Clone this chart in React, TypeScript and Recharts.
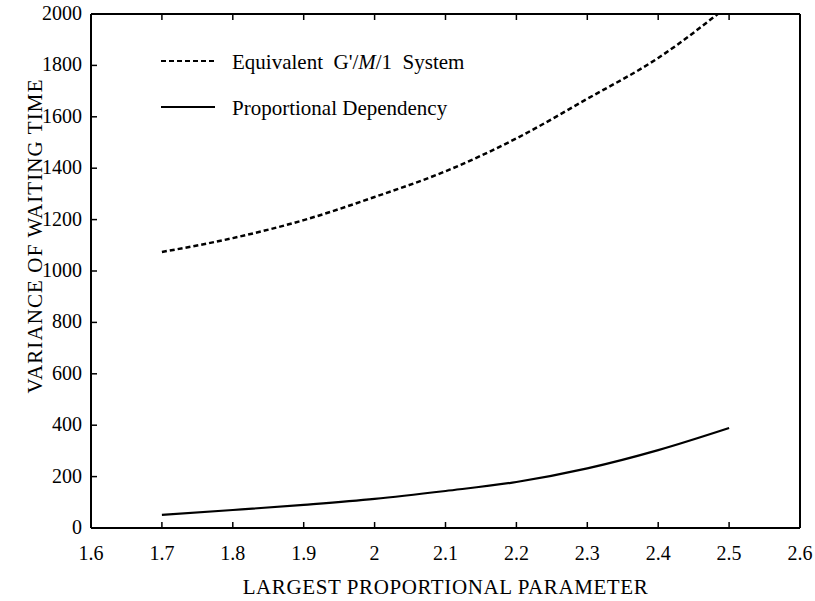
import React from "react"
import { LineChart, Line, XAxis, YAxis, Label, Customized } from "recharts"

const parameters = [1.7, 1.8, 1.9, 2.0, 2.1, 2.2, 2.3, 2.4, 2.5]
const equivalentSystem = [1074, 1128, 1198, 1288, 1388, 1516, 1670, 1829, 2035]
const proportionalDependency = [51, 70, 90, 113, 144, 179, 232, 303, 389]

const xTicks = [1.6, 1.7, 1.8, 1.9, 2.0, 2.1, 2.2, 2.3, 2.4, 2.5, 2.6]
const yTicks = [0, 200, 400, 600, 800, 1000, 1200, 1400, 1600, 1800, 2000]

const series = [
  { key: "equivalent", label: "Equivalent G'/M/1 System", dash: "5 3" },
  { key: "proportional", label: "Proportional Dependency", dash: undefined },
]

const data = parameters.map((p, i) => ({
  p,
  equivalent: equivalentSystem[i],
  proportional: proportionalDependency[i],
}))

const FONT = "'Liberation Serif', 'DejaVu Serif', serif"
const textStyle = { fontFamily: FONT, fill: "#000" }
const TICK_LEN = 6
// axis sizes: left axis 91 wide, top axis 14 high
const LEFT_W = 91
const TOP_H = 14

const fmtX = (v: number) => (Math.round(v * 10) / 10).toString()

function BottomTick({ x, y, payload }: any) {
  return (
    <g>
      <line x1={x} x2={x} y1={y} y2={y - TICK_LEN} stroke="#000" strokeWidth={1.5} />
      <text x={x} y={y + 32} textAnchor="middle" style={{ ...textStyle, fontSize: 20 }}>
        {fmtX(payload.value)}
      </text>
    </g>
  )
}

function TopTick({ x, y }: any) {
  return <line x1={x} x2={x} y1={y} y2={y + TICK_LEN} stroke="#000" strokeWidth={1.5} />
}

function LeftTick({ x, y, payload }: any) {
  return (
    <g>
      <line x1={x} x2={x + TICK_LEN} y1={y} y2={y} stroke="#000" strokeWidth={1.5} />
      <text x={x - 9} y={y + 6} textAnchor="end" style={{ ...textStyle, fontSize: 20 }}>
        {payload.value}
      </text>
    </g>
  )
}

function RightTick({ x, y }: any) {
  return <line x1={x} x2={x - TICK_LEN} y1={y} y2={y} stroke="#000" strokeWidth={1.5} />
}

function LegendBox() {
  const left = LEFT_W + 70
  const top = TOP_H + 47
  return (
    <g>
      {series.map((s, i) => {
        const y = top + i * 46
        return (
          <g key={s.key}>
            <line x1={left} x2={left + 54} y1={y} y2={y} stroke="#000" strokeWidth={2} strokeDasharray={s.dash} />
            <text x={left + 71} y={y + 8} style={{ ...textStyle, fontSize: 21 }}>
              {s.key === "equivalent" ? (
                <>
                  Equivalent&#160; G'/<tspan style={{ fontStyle: "italic" }}>M</tspan>/1&#160; System
                </>
              ) : (
                s.label
              )}
            </text>
          </g>
        )
      })}
    </g>
  )
}

export default function App() {
  return (
    <div style={{ position: "absolute", left: 0, top: 0, background: "#fff" }}>
      <LineChart width={815} height={601} data={data} margin={{ top: 0, right: 0, bottom: 0, left: 0 }}>
        <XAxis
          xAxisId="bottom"
          dataKey="p"
          type="number"
          domain={[1.6, 2.6]}
          ticks={xTicks}
          height={73}
          tickSize={0}
          tickMargin={0}
          tickLine={false}
          axisLine={{ stroke: "#000", strokeWidth: 2 }}
          tick={<BottomTick />}
          interval={0}
        >
          <Label
            content={({ viewBox }: any) => (
              <text
                x={viewBox.x + viewBox.width / 2}
                y={viewBox.y + 66}
                textAnchor="middle"
                style={{ ...textStyle, fontSize: 21, letterSpacing: 0.6 }}
              >
                LARGEST PROPORTIONAL PARAMETER
              </text>
            )}
          />
        </XAxis>
        <XAxis
          xAxisId="top"
          dataKey="p"
          type="number"
          orientation="top"
          domain={[1.6, 2.6]}
          ticks={xTicks}
          height={TOP_H}
          tickSize={0}
          tickMargin={0}
          tickLine={false}
          axisLine={{ stroke: "#000", strokeWidth: 2 }}
          tick={<TopTick />}
          interval={0}
        />
        <YAxis
          yAxisId="left"
          type="number"
          domain={[0, 2000]}
          ticks={yTicks}
          allowDataOverflow
          width={LEFT_W}
          tickSize={0}
          tickMargin={0}
          tickLine={false}
          axisLine={{ stroke: "#000", strokeWidth: 2 }}
          tick={<LeftTick />}
          interval={0}
        >
          <Label
            content={() => (
              <text
                x={0}
                y={0}
                transform="translate(42, 236) rotate(-90)"
                textAnchor="middle"
                style={{ ...textStyle, fontSize: 21, letterSpacing: 1.1 }}
              >
                VARIANCE OF WAITING TIME
              </text>
            )}
          />
        </YAxis>
        <YAxis
          yAxisId="right"
          orientation="right"
          type="number"
          domain={[0, 2000]}
          ticks={yTicks}
          width={15}
          tickSize={0}
          tickMargin={0}
          tickLine={false}
          axisLine={{ stroke: "#000", strokeWidth: 2 }}
          tick={<RightTick />}
          interval={0}
        />
        {series.map((s) => (
          <Line
            key={s.key}
            xAxisId="bottom"
            yAxisId="left"
            type="monotone"
            dataKey={s.key}
            name={s.label}
            stroke="#000"
            strokeWidth={s.dash ? 2.5 : 2.2}
            strokeDasharray={s.dash}
            dot={false}
            activeDot={false}
            isAnimationActive={false}
          />
        ))}
        <Customized component={LegendBox} />
      </LineChart>
    </div>
  )
}
